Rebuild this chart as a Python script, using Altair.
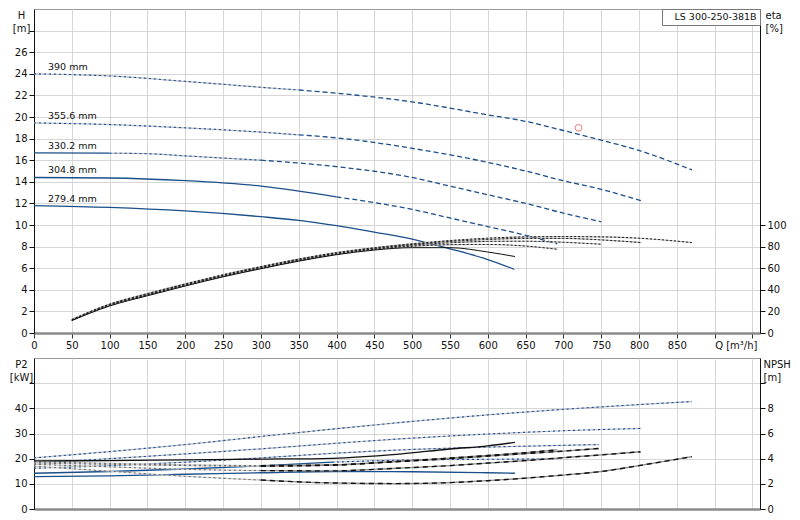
import altair as alt
import pandas as pd

FONT = "DejaVu Sans"
MODEL = "LS 300-250-381B"
CURVES = ["390 mm", "355.6 mm", "330.2 mm", "304.8 mm", "279.4 mm"]

# ---------------- Head H [m] vs Q [m3/h] ----------------
Q_H_390 = [0, 100, 200, 300, 350, 400, 500, 600, 650, 700, 750, 800, 870]
H_390 = [24.0, 23.8, 23.3, 22.75, 22.5, 22.2, 21.4, 20.2, 19.6, 18.75, 17.85, 16.9, 15.1]
Q_H_356 = [0, 100, 200, 300, 350, 400, 500, 600, 650, 700, 750, 803]
H_356 = [19.45, 19.3, 19.0, 18.6, 18.35, 18.07, 17.1, 15.8, 15.0, 14.1, 13.3, 12.25]
Q_H_330 = [0, 100, 150, 200, 300, 400, 500, 550, 600, 650, 700, 750]
H_330 = [16.68, 16.65, 16.6, 16.4, 16.0, 15.4, 14.4, 13.6, 12.8, 12.0, 11.1, 10.3]
Q_H_305 = [0, 100, 200, 300, 400, 450, 500, 550, 600, 650, 692]
H_305 = [14.4, 14.35, 14.1, 13.6, 12.6, 12.07, 11.45, 10.65, 9.85, 9.05, 8.25]
Q_H_279 = [0, 100, 200, 300, 350, 400, 450, 500, 550, 600, 635]
H_279 = [11.8, 11.63, 11.3, 10.77, 10.43, 9.94, 9.35, 8.7, 7.8, 6.8, 5.9]

# ---------------- Efficiency eta [%] ----------------
Q_E_390 = [50, 100, 150, 200, 250, 300, 350, 400, 450, 500, 550, 600, 650, 700, 750, 800, 870]
E_390 = [12.5, 26.8, 36.5, 45.5, 54.0, 61.5, 68.5, 74.5, 79.0, 82.6, 85.6, 87.8, 89.0, 89.3, 89.0, 87.8, 83.7]
Q_E_356 = [50, 100, 150, 200, 250, 300, 350, 400, 450, 500, 550, 600, 650, 700, 750, 803]
E_356 = [12.2, 26.3, 36.0, 45.0, 53.5, 61.0, 68.0, 74.0, 78.5, 82.0, 84.8, 86.6, 87.6, 87.6, 86.2, 83.7]
Q_E_330 = [50, 100, 150, 200, 250, 300, 350, 400, 450, 500, 550, 600, 650, 700, 750]
E_330 = [12.0, 26.0, 35.5, 44.5, 53.0, 60.5, 67.5, 73.5, 78.0, 81.3, 83.5, 84.8, 85.0, 84.0, 82.2]
Q_E_305 = [50, 100, 150, 200, 250, 300, 350, 400, 450, 500, 550, 600, 650, 692]
E_305 = [11.8, 25.5, 35.0, 44.0, 52.5, 60.0, 67.0, 73.0, 77.5, 80.3, 81.8, 82.0, 80.5, 77.5]
Q_E_279 = [50, 100, 150, 200, 250, 300, 350, 400, 450, 500, 550, 600, 636]
E_279 = [11.5, 25.0, 34.5, 43.5, 52.0, 59.5, 66.5, 72.5, 76.8, 79.0, 79.0, 75.0, 70.8]

# ---------------- Shaft power P2 [kW] ----------------
Q_P_390 = [0, 100, 200, 300, 400, 500, 600, 700, 800, 870]
P_390 = [20.3, 22.8, 25.6, 28.8, 31.9, 34.8, 37.4, 39.6, 41.5, 42.7]
Q_P_356 = [0, 100, 200, 300, 394, 485, 600, 700, 803]
P_356 = [18.3, 20.0, 21.9, 23.9, 26.0, 27.9, 29.8, 31.1, 32.0]
Q_P_330 = [0, 100, 200, 300, 394, 479, 600, 700, 747]
P_330 = [16.2, 17.2, 18.6, 20.3, 22.1, 23.4, 24.6, 25.3, 25.6]
Q_P_305 = [0, 100, 200, 300, 394, 500, 600, 692]
P_305 = [14.2, 14.9, 15.9, 17.1, 18.6, 19.5, 19.75, 19.9]
Q_P_279 = [0, 100, 200, 300, 400, 500, 600, 636]
P_279 = [12.9, 13.2, 13.8, 14.4, 14.9, 14.8, 14.4, 14.2]

# ---------------- NPSH [m] ----------------
Q_N_390 = [0, 100, 200, 300, 394, 479, 550, 600, 650, 700, 750, 800, 870]
N_390 = [3.4, 3.0, 2.6, 2.3, 2.07, 2.02, 2.1, 2.25, 2.45, 2.7, 2.98, 3.45, 4.16]
Q_N_356 = [0, 100, 200, 300, 394, 479, 550, 600, 650, 700, 750, 802]
N_356 = [3.55, 3.35, 3.15, 3.05, 3.03, 3.24, 3.45, 3.65, 3.85, 4.08, 4.3, 4.55]
Q_N_330 = [0, 100, 200, 300, 394, 479, 550, 600, 650, 700, 747]
N_330 = [3.65, 3.55, 3.45, 3.4, 3.48, 3.76, 4.0, 4.2, 4.4, 4.6, 4.81]
Q_N_305 = [0, 100, 200, 300, 394, 479, 550, 600, 650, 692]
N_305 = [3.75, 3.62, 3.5, 3.45, 3.5, 3.78, 4.05, 4.25, 4.48, 4.7]
Q_N_279 = [0, 100, 200, 300, 394, 479, 550, 600, 636]
N_279 = [3.82, 3.85, 3.9, 3.96, 4.03, 4.34, 4.77, 5.02, 5.3]

# duty point
DUTY_Q = [720]
DUTY_H = [19.0]

# line-style ranges (style, Q from, Q to)
H_STYLE = [
    [("dotted", 0, 350), ("dashed", 350, 870)],
    [("dotted", 0, 350), ("dashed", 350, 803)],
    [("solid", 0, 100), ("dotted", 100, 300), ("dashed", 300, 750)],
    [("solid", 0, 400), ("dashed", 400, 692)],
    [("solid", 0, 635)],
]
E_STYLE = [[("dotted", 0, 900)]] * 4 + [[("solid", 0, 900)]]
P_STYLE = [[("dotted", 0, 900)]] * 3 + [[("solid", 0, 394), ("dotted", 394, 900)], [("solid", 0, 900)]]
N_STYLE = [[("dotted", 0, 300), ("dashed", 300, 900)]] * 4 + [[("solid", 0, 900)]]


def build(col, qlists, vlists, styles):
    rows = []
    for name, qs, vs, st in zip(CURVES, qlists, vlists, styles):
        for k, (style, a, b) in enumerate(st):
            for q, v in zip(qs, vs):
                if a <= q <= b:
                    rows.append({"curve": name, "seg": f"{name}|{k}", "style": style, "Q": q, col: v})
    return pd.DataFrame(rows)


dfH = build("H", [Q_H_390, Q_H_356, Q_H_330, Q_H_305, Q_H_279], [H_390, H_356, H_330, H_305, H_279], H_STYLE)
dfE = build("eta", [Q_E_390, Q_E_356, Q_E_330, Q_E_305, Q_E_279], [E_390, E_356, E_330, E_305, E_279], E_STYLE)
dfP = build("P2", [Q_P_390, Q_P_356, Q_P_330, Q_P_305, Q_P_279], [P_390, P_356, P_330, P_305, P_279], P_STYLE)
dfN = build("NPSH", [Q_N_390, Q_N_356, Q_N_330, Q_N_305, Q_N_279], [N_390, N_356, N_330, N_305, N_279], N_STYLE)
dfD = pd.DataFrame({"Q": DUTY_Q, "H": DUTY_H, "pump": [MODEL]})

BLUE = "#1b4f8a"
GREYBLUE = "#b9bdca"
W = 726
XDOM = [0, 960]
XVALS = list(range(0, 951, 50))

xscale = alt.Scale(domain=XDOM, nice=False, zero=False)
axT = alt.Axis(values=XVALS, grid=True, gridColor="#d6d6d6", domainColor="#8a8a8a", domainWidth=2.5,
               tickColor="#333", tickSize=5, labelFlush=False, labelOverlap=False, labelPadding=2,
               labelExpr="datum.value == 900 ? 'Q [m³/h]' : (datum.value <= 850 ? datum.label : '')",
               labelAlign={"condition": {"test": "datum.value == 900", "value": "left"}, "value": "center"},
               title=None)
axB = alt.Axis(values=XVALS, grid=True, gridColor="#d6d6d6", domainColor="#8a8a8a", domainWidth=2.5,
               labels=False, ticks=False, title=None)
xT = alt.X("Q:Q", scale=xscale, axis=axT)
xB = alt.X("Q:Q", scale=xscale, axis=axB)

yH = alt.Y("H:Q", scale=alt.Scale(domain=[0, 30], nice=False),
           axis=alt.Axis(values=list(range(0, 29, 2)), grid=True, gridColor="#d6d6d6",
                         labelExpr="datum.value <= 26 ? datum.label : ''", tickSize=5,
                         domainColor="#111", title=["H", "[m]"], titleAngle=0, titleAlign="center",
                         titleBaseline="top", titleX=-13, titleY=1, titleLineHeight=13))
yE = alt.Y("eta:Q", scale=alt.Scale(domain=[0, 300], nice=False),
           axis=alt.Axis(orient="right", values=list(range(0, 101, 20)), grid=False, tickSize=5,
                         domainColor="#111", title=["eta", "[%]"], titleAngle=0, titleAlign="left",
                         titleBaseline="top", titleX=5, titleY=1, titleLineHeight=13))
yP = alt.Y("P2:Q", scale=alt.Scale(domain=[0, 60], nice=False),
           axis=alt.Axis(values=list(range(0, 51, 10)), grid=True, gridColor="#d6d6d6",
                         labelExpr="datum.value <= 40 ? datum.label : ''", tickSize=5,
                         domainColor="#111", title=["P2", "[kW]"], titleAngle=0, titleAlign="center",
                         titleBaseline="top", titleX=-13, titleY=1, titleLineHeight=13))
yN = alt.Y("NPSH:Q", scale=alt.Scale(domain=[0, 12], nice=False),
           axis=alt.Axis(orient="right", values=list(range(0, 11, 2)), grid=False, tickSize=5,
                         labelExpr="datum.value <= 8 ? datum.label : ''",
                         domainColor="#111", title=["NPSH", "[m]"], titleAngle=0, titleAlign="left",
                         titleBaseline="top", titleX=3, titleY=1, titleLineHeight=13))


def lines(df, x, y, style, color, width, dash=None):
    kw = dict(color=color, strokeWidth=width, interpolate="monotone")
    if dash:
        kw["strokeDash"] = dash
    return (alt.Chart(df).transform_filter(alt.datum.style == style)
            .mark_line(**kw).encode(x=x, y=y, detail="seg:N", order="Q:Q"))


head = alt.layer(
    lines(dfH, xT, yH, "dotted", GREYBLUE, 1.2),
    lines(dfH, xT, yH, "dotted", BLUE, 1.1, [2, 3]),
    lines(dfH, xT, yH, "dashed", BLUE, 1.3, [5, 3]),
    lines(dfH, xT, yH, "solid", BLUE, 1.3),
    alt.Chart(dfH).transform_filter(alt.datum.Q == 0)
    .mark_text(align="left", baseline="alphabetic", dx=14, dy=-4, font=FONT, fontSize=9.5, color="#111")
    .encode(x=xT, y=yH, text="curve:N"),
    alt.Chart(dfD).mark_point(shape="circle", filled=False, size=45, strokeWidth=1)
    .encode(x=xT, y=yH,
            color=alt.Color("pump:N", scale=alt.Scale(domain=[MODEL], range=["#e8434b"]),
                            legend=alt.Legend(title=None, orient="top-right", offset=0, padding=3,
                                              strokeColor="#777", fillColor="white", labelFont=FONT,
                                              labelFontSize=9.5, labelColor="#111", symbolSize=0,
                                              symbolStrokeWidth=0, symbolOpacity=0, labelOffset=0,
                                              cornerRadius=0))),
)
eff = alt.layer(
    lines(dfE, xT, yE, "dotted", "#b0b0b0", 1.1),
    lines(dfE, xT, yE, "dotted", "#222", 1.0, [2, 2]),
    lines(dfE, xT, yE, "solid", "#111", 1.0),
)
top = alt.layer(head, eff).resolve_scale(y="independent").properties(width=W, height=324)

power = alt.layer(
    lines(dfP, xB, yP, "dotted", GREYBLUE, 1.2),
    lines(dfP, xB, yP, "dotted", BLUE, 1.1, [2, 3]),
    lines(dfP, xB, yP, "solid", BLUE, 1.3),
)
npsh = alt.layer(
    lines(dfN, xB, yN, "dotted", "#cdcdcd", 1.2),
    lines(dfN, xB, yN, "dotted", "#666", 1.0, [2, 3]),
    lines(dfN, xB, yN, "dashed", "#8a8a8a", 1.3),
    lines(dfN, xB, yN, "dashed", "#111", 1.4, [5, 4]),
    lines(dfN, xB, yN, "solid", "#111", 1.3),
)
bottom = alt.layer(power, npsh).resolve_scale(y="independent").properties(width=W, height=151)

chart = (alt.vconcat(top, bottom, spacing=6, padding=0)
         .resolve_scale(y="independent")
         .configure_view(stroke="#9a9a9a", strokeWidth=1)
         .configure_axis(labelFont=FONT, titleFont=FONT, labelFontSize=10, titleFontSize=10,
                         titleFontWeight="normal", labelColor="#111", titleColor="#111",
                         tickColor="#111", domainColor="#111"))

chart.save("out.html", embed_options={"renderer": "svg", "actions": False})
